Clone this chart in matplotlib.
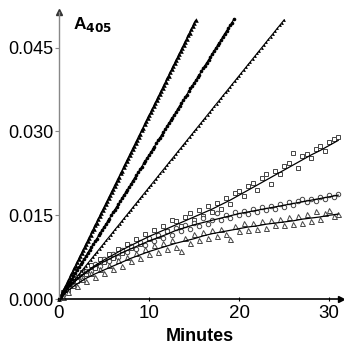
import numpy as np
import matplotlib.pyplot as plt

plt.rcParams['font.family'] = ['Liberation Sans', 'DejaVu Sans']

# absorbance values below are in milli-units (A405 x 1000)

# fast series, sampled densely
t_fast1 = np.arange(0, 92) / 6.0
a_fast1 = [0.0, 0.5, 1.1, 1.6, 2.2, 2.7, 3.3, 3.8, 4.4, 4.9, 5.5, 6.0, 6.6, 7.1, 7.7, 8.2,
           8.8, 9.3, 9.9, 10.4, 11.0, 11.5, 12.1, 12.6, 13.2, 13.7, 14.3, 14.8, 15.4, 15.9,
           16.4, 17.0, 17.5, 18.1, 18.6, 19.2, 19.7, 20.3, 20.8, 21.4, 21.9, 22.5, 23.0,
           23.6, 24.1, 24.7, 25.2, 25.8, 26.3, 26.9, 27.4, 28.0, 28.5, 29.1, 29.6, 30.2,
           30.7, 31.3, 31.8, 32.4, 32.9, 33.4, 34.0, 34.5, 35.1, 35.6, 36.2, 36.7, 37.3,
           37.8, 38.4, 38.9, 39.5, 40.0, 40.6, 41.1, 41.7, 42.2, 42.8, 43.3, 43.9, 44.4,
           45.0, 45.5, 46.1, 46.6, 47.2, 47.7, 48.3, 48.8, 49.4, 49.9]

t_fast2 = np.arange(0, 98) * 0.2
a_fast2 = [0.0, 0.5, 1.0, 1.5, 2.1, 2.6, 3.1, 3.6, 4.1, 4.6, 5.2, 5.7, 6.2, 6.7, 7.2, 7.7,
           8.3, 8.8, 9.3, 9.8, 10.3, 10.8, 11.4, 11.9, 12.4, 12.9, 13.4, 13.9, 14.4, 15.0,
           15.5, 16.0, 16.5, 17.0, 17.5, 18.1, 18.6, 19.1, 19.6, 20.1, 20.6, 21.2, 21.7,
           22.2, 22.7, 23.2, 23.7, 24.3, 24.8, 25.3, 25.8, 26.3, 26.8, 27.3, 27.9, 28.4,
           28.9, 29.4, 29.9, 30.4, 31.0, 31.5, 32.0, 32.5, 33.0, 33.5, 34.1, 34.6, 35.1,
           35.6, 36.1, 36.6, 37.2, 37.7, 38.2, 38.7, 39.2, 39.7, 40.2, 40.8, 41.3, 41.8,
           42.3, 42.8, 43.3, 43.9, 44.4, 44.9, 45.4, 45.9, 46.4, 47.0, 47.5, 48.0, 48.5,
           49.0, 49.5, 50.1]

t_fast3 = np.arange(0, 101) * 0.25
a_fast3 = [0.0, 0.5, 1.0, 1.5, 2.0, 2.5, 3.0, 3.5, 4.0, 4.5, 5.0, 5.5, 6.0, 6.5, 7.0, 7.5,
           8.0, 8.5, 9.0, 9.5, 10.0, 10.5, 11.0, 11.5, 12.0, 12.5, 13.0, 13.5, 14.0, 14.5,
           15.0, 15.5, 16.0, 16.5, 17.0, 17.5, 18.0, 18.5, 19.0, 19.5, 20.0, 20.5, 21.0,
           21.5, 22.0, 22.5, 23.0, 23.5, 24.0, 24.5, 25.0, 25.5, 26.0, 26.5, 27.0, 27.5,
           28.0, 28.5, 29.0, 29.5, 30.0, 30.5, 31.0, 31.5, 32.0, 32.5, 33.0, 33.5, 34.0,
           34.5, 35.0, 35.5, 36.0, 36.5, 37.0, 37.5, 38.0, 38.5, 39.0, 39.5, 40.0, 40.5,
           41.0, 41.5, 42.0, 42.5, 43.0, 43.5, 44.0, 44.5, 45.0, 45.5, 46.0, 46.5, 47.0,
           47.5, 48.0, 48.5, 49.0, 49.5, 50.0]

# slow series, sampled every 30 s
t_slow = np.arange(1, 63) * 0.5
a_squares = [1.3, 1.7, 3.2, 3.3, 4.8, 4.5, 6.1, 5.6, 7.2, 6.6, 8.0, 7.4, 9.0, 8.3, 9.9, 9.1,
             10.7, 9.9, 11.6, 10.7, 12.4, 11.3, 13.1, 12.2, 14.1, 13.9, 13.0, 14.6, 15.4,
             14.1, 15.9, 14.8, 16.6, 15.6, 17.2, 16.2, 18.1, 17.0, 18.9, 19.3, 18.5, 20.3,
             20.8, 19.6, 21.7, 22.4, 20.6, 22.9, 22.3, 23.8, 24.3, 26.2, 23.4, 25.6, 26.0,
             25.2, 26.9, 27.4, 26.5, 28.1, 28.6, 29.0]
a_circles = [0.8, 2.2, 2.5, 3.9, 3.8, 5.1, 5.0, 6.2, 6.0, 7.1, 6.8, 8.0, 7.6, 8.7, 8.4, 9.5,
             9.0, 10.2, 9.7, 10.9, 10.3, 11.5, 10.9, 12.1, 11.5, 12.7, 12.1, 13.3, 12.6,
             13.7, 13.1, 14.5, 13.5, 14.2, 15.4, 14.1, 15.0, 14.5, 15.5, 15.0, 15.8, 15.2,
             16.2, 15.6, 16.4, 15.9, 16.7, 16.1, 17.0, 16.5, 17.3, 16.8, 17.5, 17.9, 17.3,
             17.9, 17.5, 18.3, 17.9, 18.6, 18.2, 18.8]
a_triangles = [0.4, 1.2, 2.5, 2.3, 3.6, 3.2, 4.6, 4.0, 5.4, 4.7, 6.1, 5.3, 6.9, 6.0, 7.6, 6.8,
               8.3, 7.4, 8.9, 8.0, 9.6, 8.4, 10.1, 9.0, 10.6, 9.3, 8.6, 10.9, 10.0, 11.6,
               10.5, 12.0, 11.0, 12.4, 11.2, 12.6, 11.6, 10.8, 13.0, 12.1, 13.6, 12.4, 13.6,
               12.5, 13.9, 12.7, 14.1, 13.2, 14.3, 13.3, 14.6, 13.5, 14.9, 13.7, 15.2, 14.0,
               15.8, 14.3, 15.4, 16.0, 14.8, 15.2]

# fitted curves for the slow series, one value per minute
t_fit = np.arange(0, 32)
fit_squares = [0, 2.0, 3.6, 4.9, 6.0, 7.0, 7.9, 8.8, 9.6, 10.4, 11.2, 11.9, 12.6, 13.3, 14.0,
               14.7, 15.4, 16.1, 16.9, 17.7, 18.6, 19.5, 20.4, 21.3, 22.2, 23.1, 24.0, 24.9,
               25.8, 26.6, 27.5, 28.4]
fit_circles = [0, 1.9, 3.5, 4.7, 5.8, 6.7, 7.5, 8.3, 9.0, 9.7, 10.4, 11.0, 11.6, 12.3, 12.8,
               13.3, 13.7, 14.1, 14.5, 14.9, 15.3, 15.6, 15.9, 16.2, 16.5, 16.8, 17.1, 17.4,
               17.7, 18.0, 18.3, 18.6]
fit_triangles = [0, 1.5, 2.7, 3.7, 4.5, 5.2, 5.9, 6.6, 7.3, 7.9, 8.5, 9.0, 9.5, 10.0, 10.4,
                 10.8, 11.3, 11.7, 12.0, 12.3, 12.6, 12.9, 13.1, 13.4, 13.6, 13.8, 14.0, 14.3,
                 14.5, 14.7, 15.0, 15.2]

yticks = [0.0, 0.015, 0.030, 0.045]
xticks = [0, 10, 20, 30]

fig = plt.figure(figsize=(3.44, 3.45), dpi=100)
ax = fig.add_axes([0.1715, 0.1333, 0.8195, 0.832])

def mA(v):
    return np.asarray(v) / 1000.0

# open symbols first, fitted lines on top
ax.plot(t_slow, mA(a_squares), 's', ms=3.2, mfc='white', mec='#444444', mew=0.7, clip_on=False)
ax.plot(t_slow, mA(a_circles), 'o', ms=3.2, mfc='white', mec='#444444', mew=0.7, clip_on=False)
ax.plot(t_slow, mA(a_triangles), '^', ms=3.6, mfc='white', mec='#444444', mew=0.7, clip_on=False)
for f in (fit_squares, fit_circles, fit_triangles):
    ax.plot(t_fit, mA(f), '-', color='black', lw=0.9, clip_on=False)

ax.plot(t_fast1, mA(a_fast1), '-', color='black', lw=0.9)
ax.plot(t_fast1, mA(a_fast1), '^', ms=3.3, color='black', mew=0, clip_on=False)
ax.plot(t_fast2, mA(a_fast2), '-', color='black', lw=0.9)
ax.plot(t_fast2, mA(a_fast2), 'o', ms=2.6, color='black', mew=0, clip_on=False)
ax.plot(t_fast3, mA(a_fast3), '-', color='black', lw=0.8)
ax.plot(t_fast3, mA(a_fast3), '^', ms=2.0, color='black', mew=0, clip_on=False)

ax.set_xlim(0, 31.3)
ax.set_ylim(0, 0.0514)
ax.set_xticks(xticks)
ax.set_xticklabels([str(v) for v in xticks])
ax.set_yticks(yticks)
ax.set_yticklabels(['%.3f' % v for v in yticks])

for s in ('top', 'right'):
    ax.spines[s].set_visible(False)
ax.spines['left'].set_color('#888888')
ax.spines['left'].set_linewidth(1.0)
ax.spines['bottom'].set_color('black')
ax.spines['bottom'].set_linewidth(1.2)

ax.tick_params(axis='y', direction='out', length=3, width=0.8, color='#888888',
               labelsize=13, pad=1)
ax.tick_params(axis='x', direction='inout', length=3, width=0.8, color='black',
               labelsize=13.5, pad=3)

# axis arrows
ax.plot(1, 0, '>', color='black', ms=5, transform=ax.get_yaxis_transform(), clip_on=False)
ax.plot(0, 1, '^', color='#333333', ms=5, transform=ax.get_xaxis_transform(), clip_on=False)

ax.set_xlabel('Minutes', fontsize=13, fontweight='bold', labelpad=4)
ax.text(0.05, 0.955, r'A$_{\mathbf{405}}$', transform=ax.transAxes, fontsize=12.5,
        fontweight='bold', ha='left', va='center')

fig.savefig('out.png', dpi=100)
